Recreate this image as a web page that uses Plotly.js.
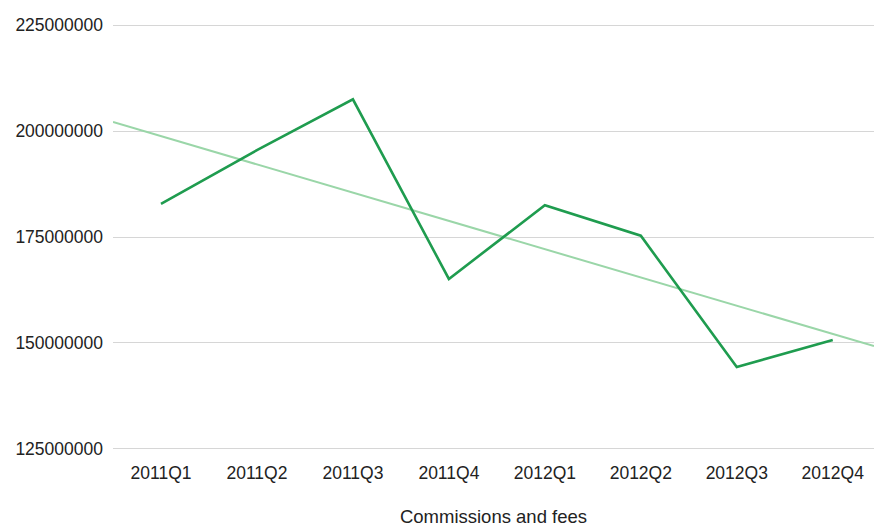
<!DOCTYPE html>
<html>
<head>
<meta charset="utf-8">
<script src="https://cdn.plot.ly/plotly-3.0.1.min.js"></script>
<style>html,body{margin:0;padding:0;background:#fff;}#chart{width:874px;height:527px;}</style>
</head>
<body>
<div id="chart"></div>
<script>
const categories = ["2011Q1","2011Q2","2011Q3","2011Q4","2012Q1","2012Q2","2012Q3","2012Q4"];
const commissions = [182800000, 195500000, 207500000, 165100000, 182500000, 175300000, 144300000, 150700000];
const yTicks = [125000000, 150000000, 175000000, 200000000, 225000000];

const idx = categories.map((c, i) => i);
// least-squares trend line through the data
const n = commissions.length;
const mx = idx.reduce((a, b) => a + b, 0) / n;
const my = commissions.reduce((a, b) => a + b, 0) / n;
let sxy = 0, sxx = 0;
for (let i = 0; i < n; i++) { sxy += (idx[i] - mx) * (commissions[i] - my); sxx += (idx[i] - mx) ** 2; }
const slope = sxy / sxx;
const xr = [-0.5, 7.43];
const trendX = xr;
const trendY = xr.map(x => my + slope * (x - mx));

const data = [
  {x: trendX, y: trendY, mode: 'lines', line: {color: '#9ad6a8', width: 2}, hoverinfo: 'skip', showlegend: false},
  {x: idx, y: commissions, mode: 'lines', line: {color: '#1f9c4f', width: 2.6}, showlegend: false}
];

const layout = {
  width: 874, height: 527,
  margin: {l: 113, r: 0, t: 23, b: 76},
  paper_bgcolor: '#fff', plot_bgcolor: '#fff',
  font: {family: 'Liberation Sans, Arial, sans-serif', color: '#222', size: 17.5},
  showlegend: false,
  xaxis: {
    type: 'linear', range: xr, tickvals: idx, ticktext: categories,
    showgrid: false, zeroline: false, showline: false, ticks: '',
    ticklabelstandoff: 9,
    tickfont: {size: 17.5, color: '#222'},
    title: {text: 'Commissions and fees', font: {size: 18.5, color: '#222'}, standoff: 29}
  },
  yaxis: {
    range: [124500000, 225500000], tickvals: yTicks, ticktext: yTicks.map(String),
    showgrid: true, gridcolor: '#d6d6d6', gridwidth: 1, zeroline: false, showline: false,
    ticks: '', ticklabelstandoff: 9, tickfont: {size: 17.5, color: '#222'}
  }
};

Plotly.newPlot('chart', data, layout, {displayModeBar: false, staticPlot: true});
</script>
</body>
</html>
